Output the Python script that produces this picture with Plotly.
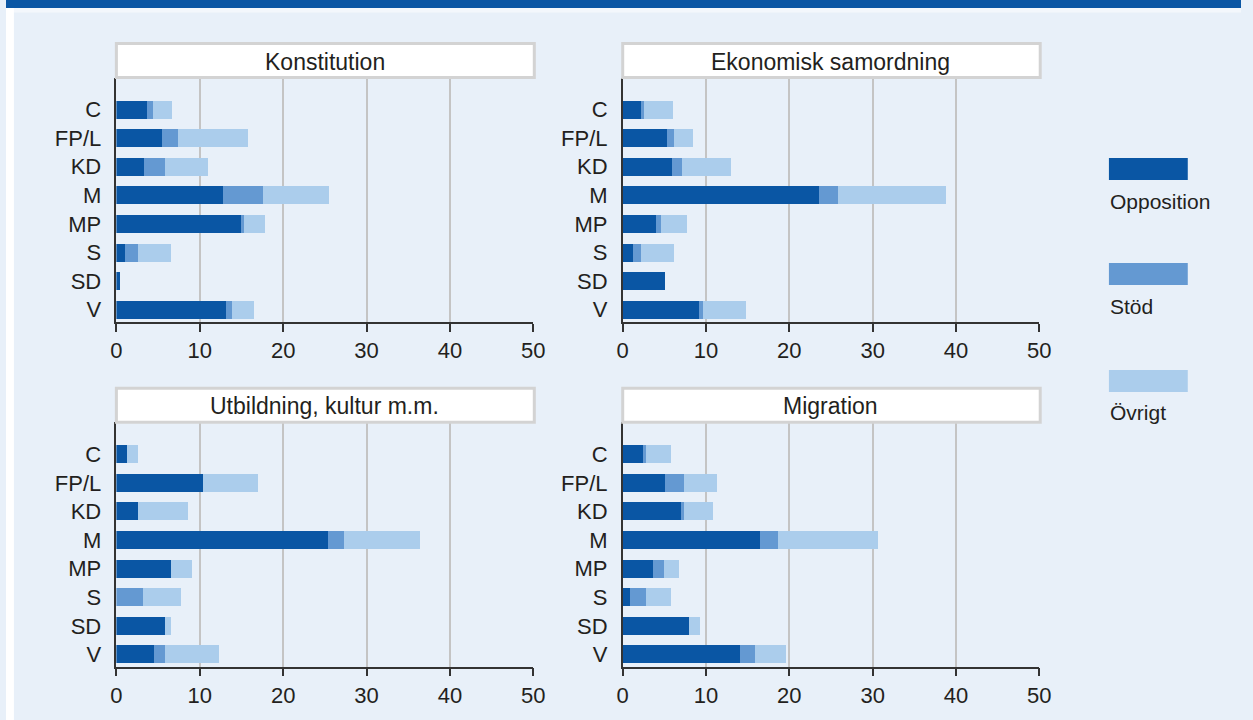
import plotly.graph_objects as go

# ---------------- data ----------------
parties = ["C", "FP/L", "KD", "M", "MP", "S", "SD", "V"]
series_names = ["Opposition", "Stöd", "Övrigt"]
panel_titles = ["Konstitution", "Ekonomisk samordning", "Utbildning, kultur m.m.", "Migration"]

konst_opp = [3.7, 5.45, 3.3, 12.8, 14.9, 1.05, 0.45, 13.15]
konst_stod = [0.7, 1.9, 2.5, 4.75, 0.35, 1.55, 0, 0.7]
konst_ovr = [2.25, 8.4, 5.2, 8.0, 2.55, 4.0, 0, 2.6]

ekon_opp = [2.15, 5.35, 5.95, 23.55, 4.05, 1.2, 5.1, 9.15]
ekon_stod = [0.35, 0.85, 1.2, 2.35, 0.6, 1.05, 0, 0.45]
ekon_ovr = [3.55, 2.25, 5.8, 12.9, 3.05, 3.9, 0, 5.2]

utb_opp = [1.3, 10.4, 2.6, 25.4, 6.5, 0, 5.8, 4.5]
utb_stod = [0, 0, 0, 1.9, 0, 3.2, 0, 1.3]
utb_ovr = [1.3, 6.55, 5.95, 9.1, 2.6, 4.6, 0.7, 6.5]

migr_opp = [2.4, 5.1, 7.0, 16.45, 3.6, 0.85, 7.95, 14.1]
migr_stod = [0.35, 2.25, 0.35, 2.15, 1.3, 1.9, 0, 1.75]
migr_ovr = [3.05, 4.0, 3.45, 12.05, 1.9, 3.05, 1.3, 3.8]

x_ticks = [0, 10, 20, 30, 40, 50]

# ---------------- style ----------------
W, H = 1253, 720
COLORS = ["#0a56a4", "#6499d2", "#abcdec"]
BG = "#e8f0f9"
TXT = "#231f20"
FONT = "Liberation Sans, Arial, sans-serif"

panels = [
    (konst_opp, konst_stod, konst_ovr),
    (ekon_opp, ekon_stod, ekon_ovr),
    (utb_opp, utb_stod, utb_ovr),
    (migr_opp, migr_stod, migr_ovr),
]

# pixel geometry of each panel: (left, right, title_top, title_bottom, axis_y)
geo = [
    (112.0, 535.0, 43.5, 77.5, 322.0),
    (625.7, 1048.3, 43.5, 77.5, 322.0),
    (112.0, 535.0, 388.3, 422.3, 666.7),
    (625.7, 1048.3, 388.3, 422.3, 666.7),
]

def px(x):
    return x / W

def py(y):
    return 1 - y / H

fig = go.Figure()
layout = dict(
    width=W, height=H, margin=dict(l=0, r=0, t=0, b=0), autosize=False,
    paper_bgcolor=BG, plot_bgcolor=BG, barmode="stack", bargap=0.37,
    showlegend=False, font=dict(family=FONT, color=TXT),
)
shapes = []
annotations = []

cat_array = list(reversed(parties))

for i, (vals, g) in enumerate(zip(panels, geo)):
    n = "" if i == 0 else str(i + 1)
    left, right, ttop, tbot, axy = g
    for s, (name, v) in enumerate(zip(series_names, vals)):
        fig.add_trace(go.Bar(
            x=v, y=parties, orientation="h", name=name,
            marker=dict(color=COLORS[s], line=dict(width=0)),
            xaxis="x" + n, yaxis="y" + n,
        ))
    layout["xaxis" + n] = dict(
        domain=[px(left), px(right)], anchor="y" + n, range=[0, 50],
        tickvals=x_ticks, ticktext=[str(t) for t in x_ticks],
        showgrid=True, gridcolor="#c4c4c4", gridwidth=2, zeroline=False,
        showline=True, linecolor="#333333", linewidth=1.5,
        ticks="outside", ticklen=8, tickwidth=1.5, tickcolor="#333333",
        tickfont=dict(size=22, family=FONT, color=TXT), fixedrange=True,
    )
    layout["yaxis" + n] = dict(
        domain=[py(axy), py(tbot)], anchor="x" + n, type="category",
        categoryorder="array", categoryarray=cat_array,
        range=[-0.43, 8.12], showgrid=False, zeroline=False,
        showline=True, linecolor="#333333", linewidth=1.5,
        ticks="", ticklabelstandoff=9,
        tickfont=dict(size=22, family=FONT, color=TXT), fixedrange=True,
    )
    # title box
    shapes.append(dict(
        type="rect", xref="paper", yref="paper",
        x0=px(left), x1=px(right + 1), y0=py(tbot), y1=py(ttop),
        fillcolor="white", line=dict(color="#d3d3d3", width=3), layer="above",
    ))
    annotations.append(dict(
        text=panel_titles[i], xref="paper", yref="paper",
        x=px((left + right) / 2), y=py((ttop + tbot) / 2 + 1),
        xanchor="center", yanchor="middle", showarrow=False,
        font=dict(size=23, family=FONT, color=TXT),
    ))

# top band and white edges
shapes.append(dict(type="rect", xref="paper", yref="paper", x0=0, x1=1,
                   y0=py(8), y1=1, fillcolor="#0a56a4", line=dict(width=0), layer="below"))
shapes.append(dict(type="rect", xref="paper", yref="paper", x0=0, x1=1,
                   y0=py(12.5), y1=py(8), fillcolor="#f3f7fc", line=dict(width=0), layer="below"))
shapes.append(dict(type="rect", xref="paper", yref="paper", x0=0, x1=px(8),
                   y0=0, y1=py(8), fillcolor="#ffffff", line=dict(width=0), layer="below"))

# custom legend
legend_rows = [(158, 180, 201), (263, 285, 306), (370, 392, 412.5)]
for s, (name, (r0, r1, ty)) in enumerate(zip(series_names, legend_rows)):
    shapes.append(dict(type="rect", xref="paper", yref="paper",
                       x0=px(1119), x1=px(1199), y0=py(r1), y1=py(r0),
                       fillcolor=COLORS[s], line=dict(width=0)))
    annotations.append(dict(
        text=name, xref="paper", yref="paper", x=px(1118), y=py(ty),
        xanchor="left", yanchor="middle", showarrow=False,
        font=dict(size=21, family=FONT, color=TXT),
    ))

layout["shapes"] = shapes
layout["annotations"] = annotations
fig.update_layout(**layout)
fig.write_html(
    "out.html",
    config={"displayModeBar": False},
    post_script="document.body.style.margin='0';document.body.style.overflow='hidden';",
)
